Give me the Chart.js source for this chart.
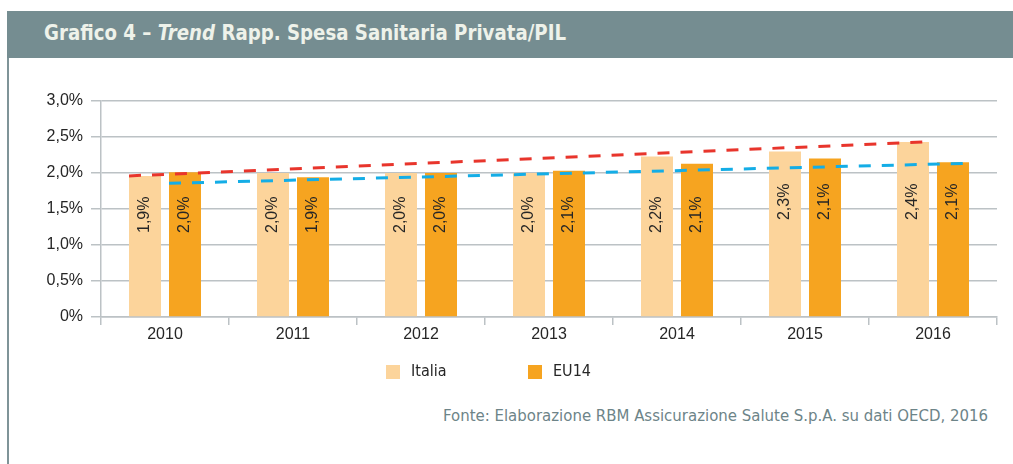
<!DOCTYPE html>
<html>
<head>
<meta charset="utf-8">
<script src="https://cdn.jsdelivr.net/npm/chart.js@4.4.1/dist/chart.umd.min.js"></script>
<style>
  html, body { margin: 0; padding: 0; background: #ffffff; width: 1013px; height: 464px; overflow: hidden; }
  #bar { position: absolute; left: 7px; top: 11px; width: 1006px; height: 47px; background: #758d91; }
  #title { position: absolute; left: 44px; top: 11px; height: 47px; color: #eef2ea;
           font: bold 21px "DejaVu Sans Condensed", "DejaVu Sans", sans-serif; line-height: 45px;
           white-space: nowrap; transform-origin: left center; }
  #border { position: absolute; left: 7px; top: 58px; width: 2px; height: 406px; background: #7f9498; }
  #src { position: absolute; top: 406px; left: 443px; height: 20px; color: #6d8488;
         font: 15px "DejaVu Sans Condensed", "DejaVu Sans", sans-serif; line-height: 20px;
         white-space: nowrap; transform-origin: left center; }
  #wrap { position: absolute; left: 0; top: 0; width: 1013px; height: 464px; }
</style>
</head>
<body>
<div id="bar"></div>
<div id="title">Grafico 4 – <i>Trend</i> Rapp. Spesa Sanitaria Privata/PIL</div>
<div id="border"></div>
<div id="src">Fonte: Elaborazione RBM Assicurazione Salute S.p.A. su dati OECD, 2016</div>
<div id="wrap"><canvas id="c" width="1013" height="464"></canvas></div>
<script>
// ---- data ----
const categories = ['2010', '2011', '2012', '2013', '2014', '2015', '2016'];
const italia = [1.96, 2.00, 2.00, 2.00, 2.23, 2.30, 2.43];
const eu14 = [2.01, 1.94, 2.00, 2.03, 2.13, 2.20, 2.15];
const italiaLabels = ['1,9%', '2,0%', '2,0%', '2,0%', '2,2%', '2,3%', '2,4%'];
const eu14Labels = ['2,0%', '1,9%', '2,0%', '2,1%', '2,1%', '2,1%', '2,1%'];
const italiaTrend = [1.96, 2.435];   // trend line value at first / last bar
const eu14Trend = [1.857, 2.135];
const yTickValues = [0, 0.5, 1, 1.5, 2, 2.5, 3];
const yTickLabels = ['0%', '0,5%', '1,0%', '1,5%', '2,0%', '2,5%', '3,0%'];
const seriesNames = ['Italia', 'EU14'];

// fit title/source widths
(function () {
  const t = document.getElementById('title');
  t.style.transform = 'scaleX(' + (522 / t.getBoundingClientRect().width) + ')';
  const s = document.getElementById('src');
  s.style.transform = 'scaleX(' + (545 / s.getBoundingClientRect().width) + ')';
})();

// ---- styles ----
const CAT_PCT = 0.625, BAR_PCT = 0.8;
const GRID = '#bcc2c5';
const TXT = '#262626';
const FONT = '"Liberation Sans", Arial, sans-serif';
const colItalia = '#fcd49b', colEU = '#f6a420';

// trend lines: from left edge of the first bar to right edge of the last bar of each series
const trendLines = {
  id: 'trendLines',
  afterDatasetsDraw(chart, args, opts) {
    const ctx = chart.ctx, y = chart.scales.y;
    [italiaTrend, eu14Trend].forEach((vals, k) => {
      const bars = chart.getDatasetMeta(k).data;
      const first = bars[0], last = bars[bars.length - 1];
      ctx.save();
      ctx.strokeStyle = opts.colors[k];
      ctx.lineWidth = 3;
      ctx.setLineDash([12, 11]);
      ctx.beginPath();
      ctx.moveTo(first.x - first.width / 2, y.getPixelForValue(vals[0]));
      ctx.lineTo(last.x + last.width / 2, y.getPixelForValue(vals[1]));
      ctx.stroke();
      ctx.restore();
    });
  }
};

const barLabels = {
  id: 'barLabels',
  afterDatasetsDraw(chart, args, opts) {
    const ctx = chart.ctx, y = chart.scales.y;
    const sets = [italiaLabels, eu14Labels];
    [0, 1].forEach((di) => {
      chart.getDatasetMeta(di).data.forEach((bar, i) => {
        const py = y.getPixelForValue(opts.anchors[i]);
        ctx.save();
        ctx.translate(bar.x, py);
        ctx.rotate(-Math.PI / 2);
        ctx.font = '16px ' + FONT;
        ctx.fillStyle = TXT;
        ctx.textAlign = 'center';
        ctx.textBaseline = 'middle';
        ctx.fillText(sets[di][i], 0, 0);
        ctx.restore();
      });
    });
  }
};

const customLegend = {
  id: 'customLegend',
  afterDraw(chart, args, opts) {
    const ctx = chart.ctx;
    chart.data.datasets.forEach((ds, k) => {
      const x0 = opts.starts[k];
      ctx.save();
      ctx.fillStyle = ds.backgroundColor;
      ctx.fillRect(x0, opts.cy - opts.box / 2, opts.box, opts.box);
      ctx.font = '16px "DejaVu Sans Condensed", "DejaVu Sans", sans-serif';
      ctx.fillStyle = TXT;
      ctx.textAlign = 'left';
      ctx.textBaseline = 'middle';
      ctx.fillText(ds.label, x0 + opts.box + opts.gap, opts.cy);
      ctx.restore();
    });
  }
};

new Chart(document.getElementById('c'), {
  type: 'bar',
  data: {
    labels: categories,
    datasets: [
      { label: seriesNames[0], data: italia, backgroundColor: colItalia,
        categoryPercentage: CAT_PCT, barPercentage: BAR_PCT },
      { label: seriesNames[1], data: eu14, backgroundColor: colEU,
        categoryPercentage: CAT_PCT, barPercentage: BAR_PCT }
    ]
  },
  options: {
    responsive: false,
    animation: false,
    layout: { padding: { left: 0, right: 16, top: 101, bottom: 117 } },
    plugins: {
      legend: { display: false },
      tooltip: { enabled: false },
      trendLines: { colors: ['#e8352c', '#14ade6'] },
      barLabels: { anchors: [1.42, 1.42, 1.42, 1.42, 1.42, 1.6, 1.6] },
      customLegend: { starts: [386, 528], cy: 372, box: 14, gap: 11 }
    },
    scales: {
      x: {
        type: 'category', offset: true,
        grid: { offset: true, drawOnChartArea: false, drawTicks: true, tickLength: 8, color: GRID, lineWidth: 1.5 },
        border: { color: GRID, width: 1.5 },
        ticks: { font: { family: FONT, size: 16 }, color: TXT, padding: 0, maxRotation: 0 },
        afterFit(s) { s.height = 30; }
      },
      y: {
        min: 0, max: 3,
        afterBuildTicks(s) { s.ticks = yTickValues.map(v => ({ value: v })); },
        ticks: { padding: 8, font: { family: FONT, size: 16 }, color: TXT,
                 callback: (v, i) => yTickLabels[yTickValues.indexOf(v)] },
        grid: { color: GRID, lineWidth: 1.5, tickLength: 10 },
        border: { color: GRID, width: 1.5 },
        afterFit(s) { s.width = 101; }
      }
    }
  },
  plugins: [barLabels, trendLines, customLegend]
});
</script>
</body>
</html>
